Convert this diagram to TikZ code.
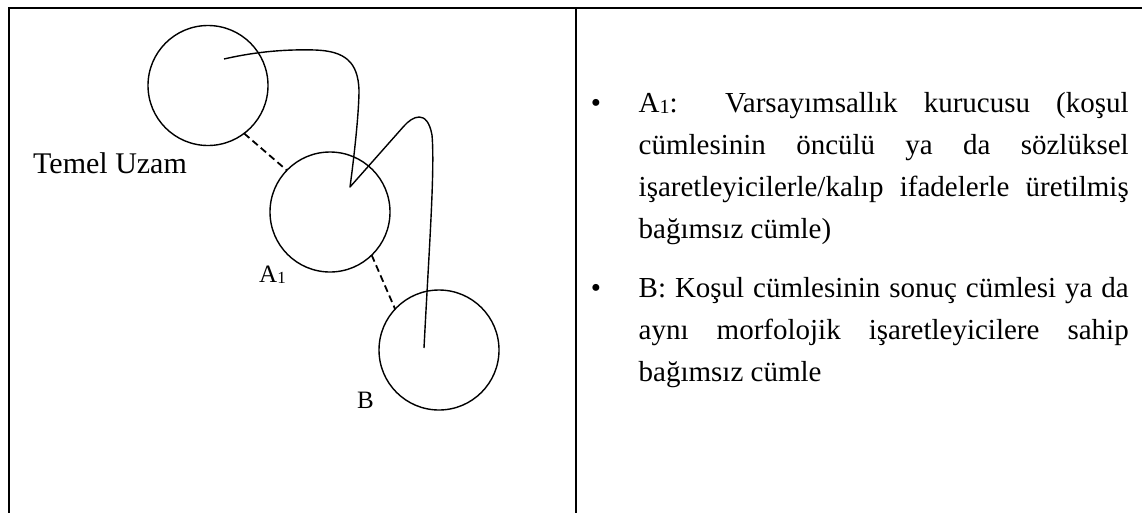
\documentclass[tikz,border=0pt]{standalone}
\usepackage{fontspec}
\setmainfont{Liberation Serif}
\newcommand{\lowone}[1]{\raisebox{-1.5pt}{\fontsize{#1}{#1}\selectfont 1}}
\tikzset{
  rule/.style={line width=2pt, line cap=rect},
  space/.style={circle, draw, line width=1.4pt, minimum size=120pt, inner sep=0pt, outer sep=0pt},
  link/.style={line width=1.8pt, dash pattern=on 7pt off 4pt},
  trail/.style={line width=1.4pt, line join=round},
  lbl/.style={inner sep=0pt, anchor=base west},
}
\begin{document}
\begin{tikzpicture}[x=1pt, y=1pt]
\useasboundingbox (0,0) rectangle (1142,-512);

% table frame
\draw[rule] (8.7,-512) -- (8.7,-7.7) -- (1142,-7.7);
\draw[rule] (575.5,-7.7) -- (575.5,-512);

% mental spaces
\node[space] (c1) at (208,-85.5) {};
\node[space] (c2) at (330,-212) {};
\node[space] (c3) at (439,-350) {};

\draw[link] (c1.-53) -- (c2.136);
\draw[link] (c2.-46) -- (c3.137.6);

% path through the spaces
\draw[trail] (224,-59) .. controls (250,-53) and (280,-49) .. (315,-50)
  .. controls (345,-51) and (358,-62) .. (359,-90)
  .. controls (359,-110) and (355,-150) .. (350,-187)
  -- (404,-126)
  .. controls (412,-117) and (427,-108) .. (432,-135)
  .. controls (435,-170) and (429,-250) .. (424,-348);

% labels
\node[lbl, font=\fontsize{30}{30}\selectfont] (lt) at (33,-173) {Temel Uzam};
\node[lbl, font=\fontsize{25}{25}\selectfont] (la) at (259,-282) {A\lowone{17}};
\node[lbl, font=\fontsize{25}{25}\selectfont] (lb) at (357,-408) {B};

% legend
\node[inner sep=0pt, anchor=base] (b1) at (596,-112) {\fontsize{29}{42}\selectfont\textbullet};
\node[inner sep=0pt, anchor=base] (b2) at (596,-297) {\fontsize{29}{42}\selectfont\textbullet};
\node[lbl] (ta) at (638.5,-112) {\parbox[t]{490pt}{\fontsize{29}{42}\selectfont
  \hyphenpenalty=10000 \tolerance=9999
  A\lowone{20}: Varsayımsallık kurucusu (koşul\linebreak
  cümlesinin öncülü ya da sözlüksel\linebreak
  işaretleyicilerle/kalıp ifadelerle üretilmiş\linebreak
  bağımsız cümle)}};
\node[lbl] (tb) at (638.5,-297) {\parbox[t]{490pt}{\fontsize{29}{42}\selectfont
  \hyphenpenalty=10000 \tolerance=9999
  B: Koşul cümlesinin sonuç cümlesi ya da\linebreak
  aynı morfolojik işaretleyicilere sahip\linebreak
  bağımsız cümle}};
\end{tikzpicture}
\end{document}
